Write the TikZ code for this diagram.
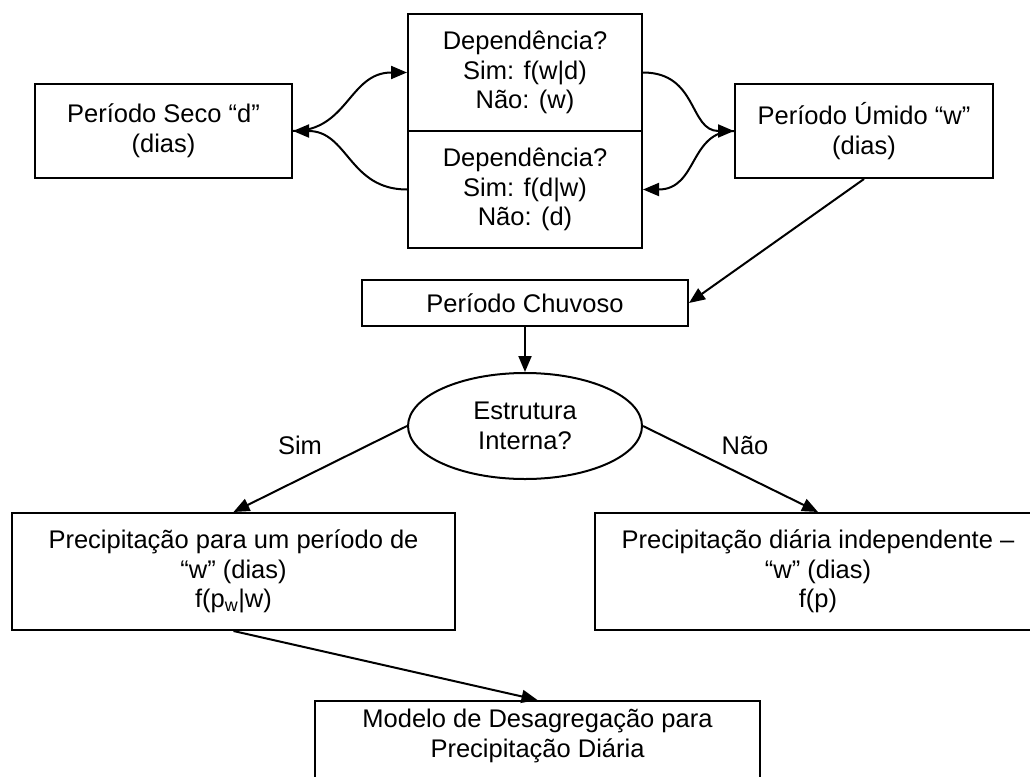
\documentclass[tikz,border=0pt]{standalone}
\usepackage{fontspec}
\setmainfont{Liberation Sans}
\usetikzlibrary{shapes.geometric,arrows.meta}
\begin{document}
\begin{tikzpicture}[x=1pt,y=-1pt,
  every node/.style={font=\fontsize{25.5}{29.5}\selectfont, align=center, inner sep=0pt},
  box/.style={draw, line width=2pt, rectangle},
  arr/.style={line width=2pt, -{Triangle[length=16pt,width=13pt]}},
  ln/.style={line width=2pt}]
\useasboundingbox (0,0) rectangle (1030,776);

\node[box, minimum width=257pt, minimum height=94pt] (seco) at (163.5,131) {Período Seco “d”\\(dias)};
\node[box, minimum width=234pt, minimum height=117pt] (dep1) at (525,72.5) {Dependência?\\Sim: f(w|d)\\Não: (w)};
\node[box, minimum width=234pt, minimum height=117pt] (dep2) at (525,189.5) {Dependência?\\Sim: f(d|w)\\Não: (d)};
\node[box, minimum width=258pt, minimum height=94pt] (umido) at (864,131) {Período Úmido “w”\\(dias)};
\node[box, minimum width=326pt, minimum height=46pt] (chuv) at (525,303) {Período Chuvoso};
\node[draw, ellipse, line width=2pt, minimum width=234pt, minimum height=106pt] (estr) at (525,426) {Estrutura\\Interna?};
\node[box, minimum width=443pt, minimum height=117pt] (prec1) at (233.5,571.5) {Precipitação para um período de\\“w” (dias)\\f(p\textsubscript{w}|w)};
\node[box, minimum width=446pt, minimum height=117pt] (prec2) at (818,571.5) {Precipitação diária independente –\\“w” (dias)\\f(p)};
\node[box, minimum width=445pt, minimum height=89pt] (modelo) at (537.5,745.5) {};
\node (modelotxt) at (537.5,736) {Modelo de Desagregação para\\Precipitação Diária};

\node (sim) at (300,445) {Sim};
\node (nao) at (745,445) {Não};

\draw[arr] (seco.east) .. controls +(55,0) and +(-58,0) .. (dep1.west);
\draw[arr] (dep2.west) .. controls +(-58,0) and +(55,0) .. (seco.east);
\draw[arr] (dep1.east) .. controls +(55,0) and +(-45,0) .. (umido.west);
\draw[arr] (umido.west) .. controls +(-45,0) and +(55,0) .. (dep2.east);
\draw[arr] (umido.south) -- (chuv.east);
\draw[arr] (chuv.south) -- (estr.north);
\draw[arr] (estr.west) -- (prec1.north);
\draw[arr] (estr.east) -- (prec2.north);
\draw[arr] (prec1.south) -- (modelo.north);
\end{tikzpicture}
\end{document}
